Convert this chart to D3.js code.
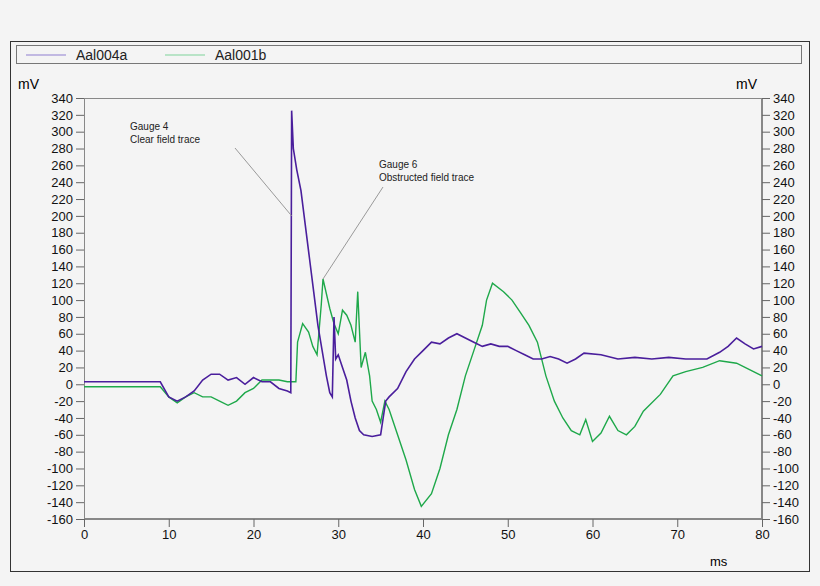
<!DOCTYPE html>
<html><head><meta charset="utf-8">
<script src="https://cdn.jsdelivr.net/npm/d3@7"></script>
<style>body{margin:0;background:#f4f4f4}svg{display:block;font-family:"Liberation Sans",Arial,sans-serif}</style>
</head><body><svg id="c" width="820" height="586"></svg>
<script>
// Aal004a: [ms, mV]
const aal004a = [[0,3],[9,3],[10,-15],[11,-20],[12,-15],[13,-8],[14,5],[15,12],[16,12],[17,5],[18,8],[19,0],[20,8],[21,3],[22,3],[23,-5],[24,-8],[24.4,-10],[24.5,325],[24.7,280],[25.1,255],[25.6,230],[26.1,190],[26.6,150],[27.1,110],[27.6,70],[28.1,40],[28.6,10],[29,-10],[29.3,-15],[29.5,80],[29.7,30],[30,35],[30.5,20],[31,5],[31.5,-20],[32,-40],[32.5,-55],[33,-60],[34,-62],[35,-60],[35.3,-40],[35.6,-20],[36,-15],[37,-5],[38,15],[39,30],[40,40],[41,50],[42,48],[43,55],[44,60],[45,55],[46,50],[47,45],[48,48],[49,45],[50,45],[51,40],[52,35],[53,30],[54,30],[55,33],[56,30],[57,25],[58,30],[59,37],[61,35],[63,30],[65,32],[67,30],[69,32],[71,30],[73.5,30],[75,38],[76,45],[77,55],[78,48],[79,42],[80,45]];
// Aal001b: [ms, mV]
const aal001b = [[0,-3],[9,-3],[10,-15],[11,-22],[12,-15],[13,-10],[14,-15],[15,-15],[16,-20],[17,-25],[18,-20],[19,-10],[20,-5],[21,5],[22,5],[23,5],[24,3],[25,3],[25.2,50],[25.8,72],[26.5,62],[27,45],[27.5,35],[28,95],[28.2,125],[29,90],[29.5,72],[30,60],[30.5,88],[31,82],[31.5,70],[32,50],[32.3,110],[32.7,20],[33.2,38],[33.7,10],[34,-20],[34.5,-30],[35,-45],[35.5,-20],[36,-30],[37,-60],[38,-90],[39,-125],[39.8,-145],[41,-130],[42,-100],[43,-60],[44,-30],[45,10],[46,40],[47,70],[47.5,100],[48.2,120],[49.5,110],[50.5,100],[51.5,85],[52.5,70],[53.5,50],[54.5,10],[55.5,-20],[56.5,-40],[57.5,-55],[58.5,-60],[59.2,-42],[60,-68],[61,-58],[62,-38],[63,-55],[64,-60],[65,-50],[66,-32],[68,-12],[69.5,10],[71,15],[73,20],[75,28],[77,25],[79,15],[80,10]];
const xTicks = d3.range(0, 81, 10);
const yTicks = d3.range(-160, 341, 20);

const svg = d3.select("#c");
const x = d3.scaleLinear().domain([0, 80]).range([84, 762]);
const y = d3.scaleLinear().domain([-160, 340]).range([519, 98]);

svg.append("rect").attr("x",10.5).attr("y",41.5).attr("width",799).attr("height",530).attr("fill","#f4f4f4").attr("stroke","#333");
svg.append("rect").attr("x",16.5).attr("y",45.5).attr("width",785).attr("height",18).attr("fill","none").attr("stroke","#777");
// legend
[["Aal004a","#8f7fd0",26],["Aal001b","#7fd39a",165]].forEach(([t,c,lx])=>{
  svg.append("line").attr("x1",lx).attr("x2",lx+40).attr("y1",55).attr("y2",55).attr("stroke",c);
  svg.append("text").attr("x",lx+50).attr("y",60).attr("font-size",14).attr("fill","#222").text(t);
});
svg.append("rect").attr("x",84.5).attr("y",98.5).attr("width",677).attr("height",420).attr("fill","none").attr("stroke","#888");

const fmt = d => d;
svg.append("g").attr("transform","translate(84,0)").call(d3.axisLeft(y).tickValues(yTicks).tickSize(8).tickFormat(fmt));
svg.append("g").attr("transform","translate(762,0)").call(d3.axisRight(y).tickValues(yTicks).tickSize(8).tickFormat(fmt));
svg.append("g").attr("transform","translate(0,519)").call(d3.axisBottom(x).tickValues(xTicks).tickSize(8).tickFormat(fmt));
svg.selectAll(".domain").attr("stroke","#888");
svg.selectAll(".tick line").attr("stroke","#666");
svg.selectAll(".tick text").attr("font-size",13).attr("fill","#111").attr("font-family","Liberation Sans, Arial");

svg.append("text").attr("x",18).attr("y",89).attr("font-size",14).text("mV");
svg.append("text").attr("x",736).attr("y",89).attr("font-size",14).text("mV");
svg.append("text").attr("x",710).attr("y",566).attr("font-size",13).text("ms");

const line = d3.line().x(d=>x(d[0])).y(d=>y(d[1]));
svg.append("path").datum(aal001b).attr("d",line).attr("fill","none").attr("stroke","#1ea84a").attr("stroke-width",1.4);
svg.append("path").datum(aal004a).attr("d",line).attr("fill","none").attr("stroke","#4a1e9c").attr("stroke-width",1.6);

// annotations
svg.append("line").attr("x1",235).attr("y1",148).attr("x2",x(24.5)).attr("y2",y(200)).attr("stroke","#999");
svg.append("line").attr("x1",383).attr("y1",187).attr("x2",x(28.2)).attr("y2",y(125)).attr("stroke","#999");
const ann = svg.append("g").attr("font-size",10).attr("fill","#222");
ann.append("text").attr("x",130).attr("y",130).text("Gauge 4");
ann.append("text").attr("x",130).attr("y",143).text("Clear field trace");
ann.append("text").attr("x",379).attr("y",168).text("Gauge 6");
ann.append("text").attr("x",379).attr("y",181).text("Obstructed field trace");
</script></body></html>
